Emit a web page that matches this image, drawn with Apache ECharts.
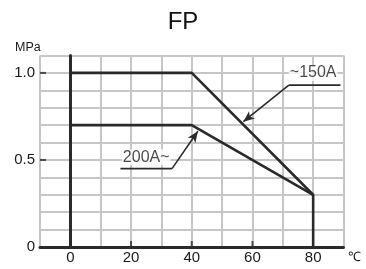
<!DOCTYPE html>
<html><head><meta charset="utf-8">
<script src="https://cdn.jsdelivr.net/npm/echarts@6/dist/echarts.min.js"></script>
<style>html,body{margin:0;padding:0;background:#fff}#c{width:366px;height:269px}</style>
</head><body><div id="c"></div>
<script>
// ---- data ----
const chartTitle = 'FP';
const xName = '℃';
const yName = 'MPa';
const xTickLabels = [0, 20, 40, 60, 80];
const yTickLabels = [0, 0.5, 1.0];
const yTickText = ['0', '0.5', '1.0'];
const lineHigh = [[0, 0], [0, 1.0], [40, 1.0], [80, 0.3], [80, 0]];   // ~150A
const lineLow = [[0, 0.7], [40, 0.7], [80, 0.3]];                     // 200A~
const label150 = [[80, 1.0]];
const label150Text = '~150A';
const leader150 = [[89, 0.93], [72, 0.93], [57, 0.72]];
const label200 = [[25, 0.515]];
const label200Text = '200A~';
const leader200 = [[16.5, 0.45], [33.5, 0.45], [42, 0.665]];

const FONT = "'Liberation Sans', Arial, sans-serif";
const DARK = '#2a2a2a';

function leaderSeries(pts) {
  return {
    type: 'line', data: pts.slice(0, 2), symbol: 'none', silent: true,
    lineStyle: { color: DARK, width: 1.6 }, z: 5,
    markLine: {
      silent: true, animation: false, label: { show: false },
      lineStyle: { color: DARK, width: 1.6, type: 'solid' },
      data: [[{ coord: pts[1], symbol: 'none' }, { coord: pts[2], symbol: 'arrow', symbolSize: [7, 11] }]]
    }
  };
}
function labelSeries(pos, text) {
  return {
    type: 'scatter', data: pos, symbolSize: 0, silent: true, clip: false, z: 6,
    label: { show: true, position: 'inside', formatter: text, color: '#1a1a1a',
      fontFamily: FONT, fontSize: 16, backgroundColor: '#fff', padding: [0, 1] }
  };
}

const chart = echarts.init(document.getElementById('c'), null, { renderer: 'canvas' });
chart.setOption({
  animation: false,
  backgroundColor: '#fff',
  title: [
    { text: chartTitle, left: 'center', top: 5,
      textStyle: { fontFamily: FONT, fontSize: 24, fontWeight: 'normal', color: '#111' } },
    { text: yName, left: 10, top: 36,
      textStyle: { fontFamily: FONT, fontSize: 12.5, fontWeight: 'normal', color: '#1a1a1a' } }
  ],
  grid: { left: 40, right: 22.5, top: 55.5, bottom: 22 },
  xAxis: {
    type: 'value', min: -10, max: 90, interval: 10,
    name: xName, nameLocation: 'end', nameGap: 4,
    nameTextStyle: { fontFamily: FONT, fontSize: 13, color: '#1a1a1a', verticalAlign: 'top', padding: [4, 0, 0, 0] },
    axisLine: { show: true, onZero: false, lineStyle: { color: DARK, width: 3 } },
    axisTick: { show: false },
    splitLine: { show: true, lineStyle: { color: '#c6c6c6', width: 2 } },
    axisLabel: { margin: 3, fontFamily: FONT, fontSize: 15, color: '#1a1a1a',
      formatter: v => xTickLabels.some(t => Math.abs(t - v) < 1e-6) ? String(v) : '' }
  },
  yAxis: {
    type: 'value', min: 0, max: 1.1, interval: 0.1,
    axisLine: { show: true, lineStyle: { color: DARK, width: 3 } },
    axisTick: { show: false },
    splitLine: { show: true, lineStyle: { color: '#c6c6c6', width: 2 } },
    axisLabel: { margin: 5, fontFamily: FONT, fontSize: 15, color: '#1a1a1a',
      formatter: v => { const i = yTickLabels.findIndex(t => Math.abs(t - v) < 1e-6); return i >= 0 ? yTickText[i] : ''; } }
  },
  series: [
    { type: 'line', data: lineHigh, symbol: 'none', silent: true, z: 4,
      lineStyle: { color: DARK, width: 2.6 } },
    { type: 'line', data: lineLow, symbol: 'none', silent: true, z: 4,
      lineStyle: { color: DARK, width: 2.6 } },
    // axis ticks (inside)
    { type: 'scatter', silent: true, clip: false, z: 4,
      data: xTickLabels.slice(1, -1).map(v => [v, 0]),
      symbol: 'rect', symbolSize: [2, 6], symbolOffset: [0, -3], itemStyle: { color: DARK } },
    { type: 'scatter', silent: true, clip: false, z: 4,
      data: yTickLabels.slice(1).map(v => [-10, v]),
      symbol: 'rect', symbolSize: [6, 2], symbolOffset: [3, 0], itemStyle: { color: DARK } },
    leaderSeries(leader150),
    leaderSeries(leader200),
    labelSeries(label150, label150Text),
    labelSeries(label200, label200Text)
  ]
});
</script>
</body></html>
